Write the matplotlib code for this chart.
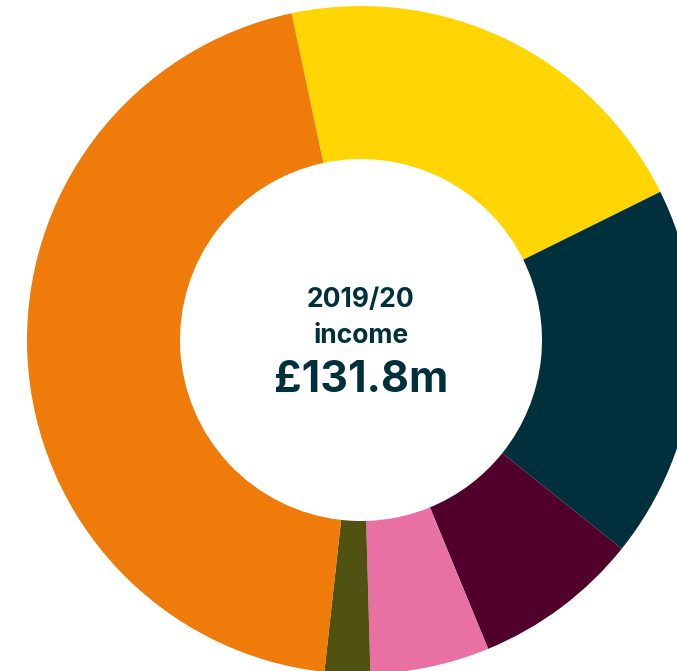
import matplotlib
matplotlib.use("Agg")
import matplotlib.pyplot as plt

categories = ["Yellow", "Dark teal", "Maroon", "Pink", "Olive", "Orange"]
values = [27.7, 23.8, 10.6, 7.6, 2.9, 59.2]
colors = ["#FFD503", "#00303C", "#50002A", "#E870A3", "#4F5210", "#EF7B0B"]
title_lines = ["2019/20", "income"]
total_label = "£131.8m"

W, H = 677, 671
cx, cy, R, r_in = 361, 340, 334, 181

fig = plt.figure(figsize=(W / 100, H / 100), dpi=100)
ax = fig.add_axes([0, 0, 1, 1])
ax.pie(values, colors=colors, startangle=102, counterclock=False,
       radius=1.0, wedgeprops=dict(width=(R - r_in) / R, linewidth=0))
ax.set_aspect("auto")
ax.set_xlim(-cx / R, (W - cx) / R)
ax.set_ylim(-(H - cy) / R, cy / R)
ax.axis("off")

txt_color = "#00303C"
fam = ["Inter", "DejaVu Sans"]
fig.text(cx / W, 1 - 307 / H, title_lines[0], ha="center", va="baseline",
         fontsize=19, fontweight="bold", color=txt_color, family=fam)
fig.text(cx / W, 1 - 343 / H, title_lines[1], ha="center", va="baseline",
         fontsize=19, fontweight="bold", color=txt_color, family=fam)
fig.text(cx / W, 1 - 392 / H, total_label, ha="center", va="baseline",
         fontsize=31, fontweight="bold", color=txt_color, family=fam)

fig.savefig("out.png", dpi=100)
